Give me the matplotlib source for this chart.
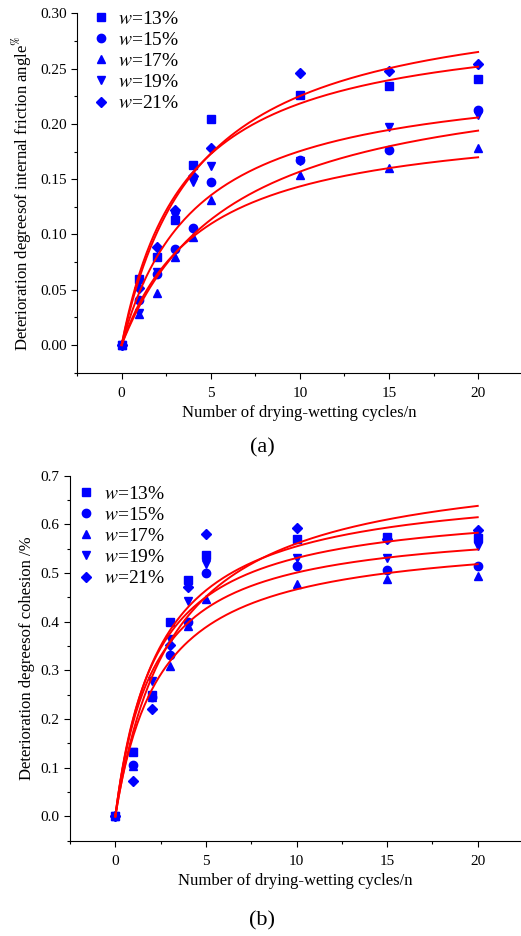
import matplotlib
matplotlib.use('Agg')
import matplotlib.pyplot as plt
import numpy as np
from matplotlib.ticker import MultipleLocator, FormatStrFormatter
from matplotlib.lines import Line2D

plt.rcParams['font.family'] = ['Liberation Serif', 'DejaVu Serif']
plt.rcParams['mathtext.fontset'] = 'stix'

# drying-wetting cycle counts
cycles = [0, 1, 2, 3, 4, 5, 10, 15, 20]
labels = ['13%', '15%', '17%', '19%', '21%']
markers = ['s', 'o', '^', 'v', 'D']

# (a) deterioration degree of internal friction angle
phi_w13 = [0, 0.060, 0.080, 0.113, 0.163, 0.204, 0.226, 0.234, 0.241]
phi_w15 = [0, 0.041, 0.064, 0.087, 0.106, 0.147, 0.167, 0.176, 0.213]
phi_w17 = [0, 0.028, 0.047, 0.080, 0.098, 0.131, 0.154, 0.160, 0.178]
phi_w19 = [0, 0.029, 0.066, 0.117, 0.147, 0.162, 0.166, 0.197, 0.208]
phi_w21 = [0, 0.052, 0.089, 0.122, 0.153, 0.178, 0.246, 0.248, 0.254]

# hyperbolic fit D = a*n/(b+n) for each moisture content
phi_fit_a = [0.297, 0.254, 0.208, 0.249, 0.322]
phi_fit_b = [3.6, 6.2, 4.5, 4.2, 4.3]

# (b) deterioration degree of cohesion
coh_w13 = [0, 0.133, 0.250, 0.399, 0.485, 0.536, 0.569, 0.575, 0.572]
coh_w15 = [0, 0.106, 0.245, 0.331, 0.400, 0.500, 0.514, 0.506, 0.514]
coh_w17 = [0, 0.104, 0.245, 0.309, 0.392, 0.447, 0.478, 0.487, 0.494]
coh_w19 = [0, 0.133, 0.278, 0.364, 0.442, 0.519, 0.531, 0.531, 0.556]
coh_w21 = [0, 0.073, 0.221, 0.352, 0.471, 0.580, 0.593, 0.570, 0.589]

coh_fit_a = [0.689, 0.606, 0.583, 0.646, 0.740]
coh_fit_b = [2.42, 2.1, 2.5, 2.17, 3.2]

BLUE = '#0000ff'
RED = '#ff0000'


def draw_panel(ax, series, fit_a, fit_b, ylim, ystep, fmt, ylabel, legend_pos):
    n = np.linspace(0, cycles[-1], 200)
    for vals, mk, lab in zip(series, markers, labels):
        ms = 5.5 if mk == 'D' else 6
        ax.plot(cycles, vals, linestyle='none', marker=mk, color=BLUE,
                markersize=ms, zorder=2)
    for a, b in zip(fit_a, fit_b):
        ax.plot(n, a * n / (b + n), color=RED, lw=1.4, zorder=3)

    ax.set_xlim(-2.5, 22.4)
    ax.set_ylim(*ylim)
    ax.xaxis.set_major_locator(MultipleLocator(5))
    ax.xaxis.set_minor_locator(MultipleLocator(2.5))
    ax.yaxis.set_major_locator(MultipleLocator(ystep))
    ax.yaxis.set_minor_locator(MultipleLocator(ystep / 2))
    ax.yaxis.set_major_formatter(FormatStrFormatter(fmt))
    ax.set_yticks(np.arange(0, ylim[1] + ystep / 10, ystep))
    for s in ('top', 'right'):
        ax.spines[s].set_visible(False)
    ax.tick_params(which='major', direction='out', length=4, width=0.8,
                   labelsize=11)
    ax.tick_params(axis='x', which='major', pad=6)
    ax.tick_params(which='minor', direction='out', length=2.5, width=0.8)
    ax.set_xlabel('Number of drying-wetting cycles/n', fontsize=12, labelpad=4)
    ax.set_ylabel(ylabel, fontsize=12, labelpad=4)

    handles = [Line2D([], [], linestyle='none', marker=mk, color=BLUE,
                      markersize=6 if mk != 'D' else 5.5) for mk in markers]
    texts = ['$\\mathit{w}$=' + lab for lab in labels]
    ax.legend(handles, texts, loc='upper left', bbox_to_anchor=legend_pos,
              frameon=False, fontsize=14, handlelength=0.8, handletextpad=0.5,
              labelspacing=0.18, borderaxespad=0)


fig = plt.figure(figsize=(5.21, 9.36), dpi=100)
ax1 = fig.add_axes([0.1478, 0.6018, 0.852, 0.3840])
ax2 = fig.add_axes([0.1344, 0.1018, 0.866, 0.3900])

draw_panel(ax1, [phi_w13, phi_w15, phi_w17, phi_w19, phi_w21],
           phi_fit_a, phi_fit_b, (-0.025, 0.30), 0.05, '%.2f',
           'Deterioration degreesof internal friction angle$^{\\%}$',
           (0.019, 1.03))
draw_panel(ax2, [coh_w13, coh_w15, coh_w17, coh_w19, coh_w21],
           coh_fit_a, coh_fit_b, (-0.05, 0.7), 0.1, '%.1f',
           'Deterioration degreesof cohesion /%', (0.002, 0.995))

fig.text(0.503, 0.521, '(a)', ha='center', va='center', fontsize=16)
fig.text(0.503, 0.016, '(b)', ha='center', va='center', fontsize=16)

fig.savefig('out.png', dpi=100)
